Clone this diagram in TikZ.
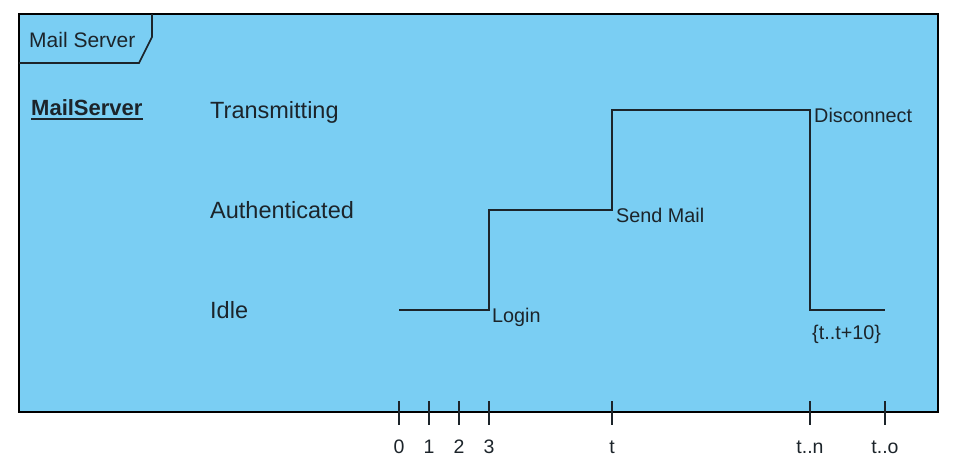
\documentclass[tikz,border=0pt]{standalone}
\usepackage{fontspec}
\setmainfont{Liberation Sans}
\definecolor{frameblue}{RGB}{122,206,243}
\definecolor{ink}{RGB}{28,36,42}
\begin{document}
\begin{tikzpicture}[x=1pt,y=-1pt,
  lbl/.style={inner sep=0pt,anchor=base west,text=ink},
  state/.style={lbl,font=\fontsize{23.5}{26}\selectfont},
  evt/.style={lbl,font=\fontsize{19.8}{22}\selectfont},
  ticklbl/.style={inner sep=0pt,anchor=base,text=ink,font=\fontsize{19.5}{22}\selectfont},
  wave/.style={draw=ink,line width=2pt},
  tick/.style={draw=ink,line width=2pt}]
\useasboundingbox (0,0) rectangle (958,472);
% frame
\coordinate (fTL) at (19,14);
\coordinate (fBR) at (938,412);
\path[fill=frameblue,draw=black,line width=2pt] (fTL) rectangle (fBR);
% tab
\coordinate (tabA) at (19,63);
\coordinate (tabB) at (139,63);
\coordinate (tabC) at (152,37);
\coordinate (tabD) at (152,14);
\draw[draw=ink,line width=1.6pt] (tabA) -- (tabB) -- (tabC) -- (tabD);
\node[lbl,font=\fontsize{21}{24}\selectfont] (tabtxt) at (29,47) {Mail Server};
% lifeline name
\node[lbl,font=\bfseries\fontsize{22}{24}\selectfont] (mname) at (31,115) {MailServer};
\coordinate (ulA) at (31,119);
\coordinate (ulB) at (143,119);
\draw[draw=ink,line width=1.5pt] (ulA) -- (ulB);
% states
\node[state] (sTrans) at (210,118) {Transmitting};
\node[state] (sAuth) at (210,218) {Authenticated};
\node[state] (sIdle) at (210,318) {Idle};
% waveform
\coordinate (w0) at (399,310);
\coordinate (w1) at (489,310);
\coordinate (w2) at (489,210);
\coordinate (w3) at (612,210);
\coordinate (w4) at (612,110);
\coordinate (w5) at (810,110);
\coordinate (w6) at (810,310);
\coordinate (w7) at (885,310);
\draw[wave] (w0) -- (w1) -- (w2) -- (w3) -- (w4) -- (w5) -- (w6) -- (w7);
% events
\node[evt] (eLogin) at (492,322.5) {Login};
\node[evt] (eSend) at (616,222) {Send Mail};
\node[evt] (eDisc) at (814,122) {Disconnect};
\node[evt] (eDur) at (812,339) {\{t..t+10\}};
% ticks
\foreach \x/\t [count=\i] in {399/0,429/1,459/2,489/3,612/t,810/t..n,885/t..o}{
  \coordinate (ta\i) at (\x,401);
  \coordinate (tb\i) at (\x,425);
  \draw[tick] (ta\i) -- (tb\i);
  \node[ticklbl] (tl\i) at (\x,453) {\t};
}
\end{tikzpicture}
\end{document}
